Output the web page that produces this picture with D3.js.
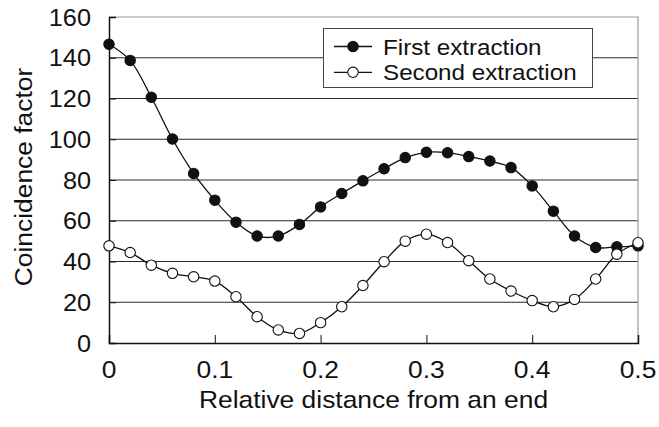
<!DOCTYPE html>
<html>
<head>
<meta charset="utf-8">
<script src="https://cdn.jsdelivr.net/npm/d3@7/dist/d3.min.js"></script>
<style>
  html, body { margin: 0; padding: 0; background: #fff; }
  svg { display: block; }
  text { font-family: "Liberation Sans", Arial, sans-serif; fill: #111; }
</style>
</head>
<body>
<svg id="chart" width="659" height="427"></svg>
<script>
// Relative position along the sample (0 = end, 0.5 = middle)
const positions = [0, 0.02, 0.04, 0.06, 0.08, 0.10, 0.12, 0.14, 0.16, 0.18, 0.20, 0.22, 0.24,
                   0.26, 0.28, 0.30, 0.32, 0.34, 0.36, 0.38, 0.40, 0.42, 0.44, 0.46, 0.48, 0.50];

// Coincidence factor per extraction
const firstExtraction = [146.6, 138.7, 120.6, 100.1, 83.2, 70.1, 59.3, 52.5, 52.5, 58.2, 66.8, 73.4, 79.6,
                         85.5, 91.0, 93.6, 93.4, 91.5, 89.3, 86.1, 77.1, 64.7, 52.5, 46.9, 47.2, 47.7];
const secondExtraction = [47.7, 44.4, 38.2, 34.2, 32.5, 30.4, 22.7, 12.9, 6.4, 4.7, 10.0, 17.8, 28.2,
                          39.9, 50.0, 53.4, 49.3, 40.4, 31.4, 25.5, 20.8, 17.8, 21.4, 31.4, 43.6, 49.2];

const seriesNames = ["First extraction", "Second extraction"];
const xTicks = [0, 0.1, 0.2, 0.3, 0.4, 0.5];
const yTicks = [0, 20, 40, 60, 80, 100, 120, 140, 160];

const svg = d3.select("#chart");
const plot = { left: 109, right: 638, top: 17, bottom: 343 };
const stretch = 1.1; // slightly wide lettering

const x = d3.scaleLinear().domain([0, 0.5]).range([plot.left, plot.right]);
const y = d3.scaleLinear().domain([0, 160]).range([plot.bottom, plot.top]);

// Places a text at (tx, ty) with a horizontal widening along its baseline
function label(parent, tx, ty, str, size, anchor, rotate = 0) {
  return parent.append("text")
    .attr("transform", `translate(${tx},${ty}) rotate(${rotate}) scale(${stretch},1)`)
    .attr("text-anchor", anchor)
    .attr("font-size", size)
    .text(str);
}

// Horizontal grid lines
svg.append("g")
  .selectAll("line")
  .data(yTicks.filter(v => v > 0 && v < 160))
  .join("line")
  .attr("x1", plot.left).attr("x2", plot.right)
  .attr("y1", d => y(d)).attr("y2", d => y(d))
  .attr("stroke", "#2a2a2a").attr("stroke-width", 1.1);

// Top and right frame
svg.append("path")
  .attr("d", `M${plot.left},${y(160)}H${plot.right}V${plot.bottom}`)
  .attr("fill", "none").attr("stroke", "#9a9a9a").attr("stroke-width", 1.2);

// Y axis
const yAxis = svg.append("g")
  .attr("transform", `translate(${plot.left},0)`)
  .call(d3.axisRight(y).tickValues(yTicks).tickSize(7).tickFormat(""));
yAxis.select(".domain").attr("stroke", "#111").attr("stroke-width", 1.5);
yAxis.selectAll(".tick line").attr("stroke", "#111");

const yLabels = svg.append("g");
yTicks.forEach(v => label(yLabels, plot.left - 18, y(v) + 8.5, v, 23, "end"));

// X axis
const xAxis = svg.append("g")
  .attr("transform", `translate(0,${plot.bottom})`)
  .call(d3.axisTop(x).tickValues(xTicks).tickSize(8).tickFormat(""));
xAxis.select(".domain").attr("stroke", "#111").attr("stroke-width", 1.5);
xAxis.selectAll(".tick line").attr("stroke", "#111");

const xLabels = svg.append("g");
xTicks.forEach(v => label(xLabels, x(v), 378, v === 0 ? "0" : d3.format(".1f")(v), 24, "middle"));

// Axis titles
label(svg, x(0.25), 408, "Relative distance from an end", 24, "middle");
label(svg, 32, (plot.top + plot.bottom) / 2 - 3, "Coincidence factor", 24, "middle", -90);

// Series lines and markers
const line = d3.line()
  .x((d, i) => x(positions[i]))
  .y(d => y(d))
  .curve(d3.curveCatmullRom.alpha(0.5));

const series = [
  { name: seriesNames[0], values: firstExtraction, fill: "#111" },
  { name: seriesNames[1], values: secondExtraction, fill: "#fff" }
];

series.forEach(s => {
  svg.append("path")
    .datum(s.values)
    .attr("d", line)
    .attr("fill", "none")
    .attr("stroke", "#111")
    .attr("stroke-width", 1.3);
  svg.append("g")
    .selectAll("circle")
    .data(s.values)
    .join("circle")
    .attr("cx", (d, i) => x(positions[i]))
    .attr("cy", d => y(d))
    .attr("r", 5.2)
    .attr("fill", s.fill)
    .attr("stroke", "#111")
    .attr("stroke-width", 1.1);
});

// Legend
const legend = svg.append("g");
legend.append("rect")
  .attr("x", 323.5).attr("y", 28.5).attr("width", 269).attr("height", 59)
  .attr("fill", "#fff").attr("stroke", "#444").attr("stroke-width", 1);

series.forEach((s, i) => {
  const ly = 46.5 + i * 25.8;
  legend.append("line")
    .attr("x1", 334).attr("x2", 372).attr("y1", ly).attr("y2", ly)
    .attr("stroke", "#111").attr("stroke-width", 1.3);
  legend.append("circle")
    .attr("cx", 353).attr("cy", ly).attr("r", 5.2)
    .attr("fill", s.fill).attr("stroke", "#111").attr("stroke-width", 1.1);
  label(legend, 383, ly + 8, s.name, 22, "start");
});
</script>
</body>
</html>
